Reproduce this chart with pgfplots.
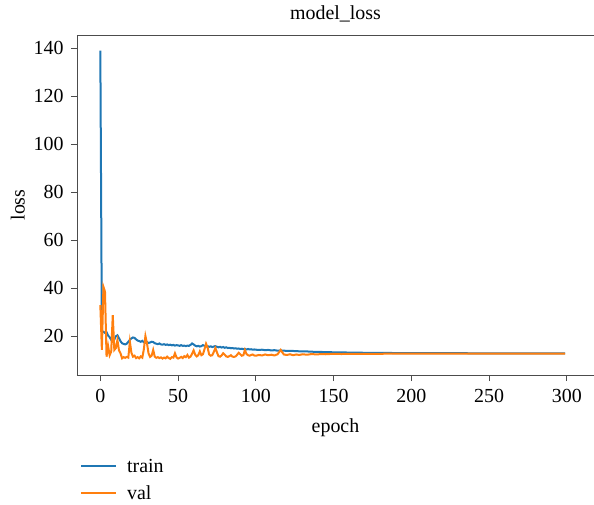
\documentclass[border=0pt]{standalone}
\usepackage{fontspec}
\setmainfont{Liberation Serif}
\usepackage{pgfplots}
\pgfplotsset{compat=1.18}
\definecolor{mplblue}{HTML}{1F77B4}
\definecolor{mplorange}{HTML}{FF7F0E}
\newcommand{\bigfont}{\fontsize{20}{24}\selectfont}

\begin{document}
\begin{tikzpicture}[font=\bigfont]
  \begin{axis}[
    at={(0,0)}, anchor=south west,
    scale only axis,
    width=517bp, height=340bp,
    xmin=-15, xmax=317.5,
    ymin=3.75, ymax=145.5,
    axis lines*=left,
    xtick={0,50,...,300}, ytick={20,40,...,140},
    tick align=outside, major tick length=6bp,
    axis line style={black!70, line width=0.9bp},
    every tick/.style={black!70, line width=0.9bp},
    /pgf/number format/assume math mode=true,
    tick label style={font=\bigfont},
    xticklabel style={yshift=-5bp},
    yticklabel style={xshift=-4bp},
    label style={font=\bigfont},
    xlabel style={yshift=-9bp},
    ylabel style={yshift=2bp},
    title style={font=\bigfont, yshift=3bp},
    title={model\_loss},
    xlabel={epoch}, ylabel={loss},
    legend style={draw=none, fill=none, font=\bigfont, at={(0,-0.235)}, anchor=north west,
      row sep=8bp, column sep=8bp, legend cell align=left},
    legend image code/.code={\draw[#1] (0bp,0bp) -- (35bp,0bp);},
  ]
    \addplot[mplblue, line width=2bp] coordinates {
      (0,139.0) (1,22.0) (2,21.8) (3,21.3) (4,21.6) (5,20.2) (6,19.5) (7,18.4) (8,17.8) (9,18.6)
      (10,19.9) (11,20.3) (12,19.1) (13,17.8) (14,17.0) (15,16.7) (16,16.5) (17,16.8) (18,17.6) (19,18.4)
      (20,19.0) (21,19.4) (22,19.2) (23,18.6) (24,18.1) (25,17.9) (26,17.6) (27,18.0) (28,17.4) (29,17.2)
      (30,17.5) (31,17.1) (32,17.3) (33,17.6) (34,17.5) (35,17.0) (36,16.8) (37,16.6) (38,16.9) (39,16.5)
      (40,16.4) (41,16.6) (42,16.3) (43,16.5) (44,16.2) (45,16.4) (46,16.1) (47,16.3) (48,16.0) (49,16.2)
      (50,16.1) (51,15.9) (52,16.2) (53,15.9) (54,16.0) (55,15.8) (56,16.0) (57,15.9) (58,16.3) (59,16.9)
      (60,16.5) (61,16.0) (62,15.7) (63,15.9) (64,15.6) (65,15.8) (66,16.2) (67,15.9) (68,15.6) (69,15.8)
      (70,15.5) (71,15.7) (72,15.4) (73,15.6) (74,15.8) (75,15.5) (76,15.3) (77,15.5) (78,15.2) (79,15.4)
      (80,15.1) (81,15.3) (82,15.0) (83,15.1) (84,14.9) (85,15.0) (86,14.8) (87,14.9) (88,14.7) (89,14.8)
      (90,14.6) (91,14.7) (92,14.5) (93,14.6) (94,14.4) (95,14.6) (96,14.4) (97,14.5) (98,14.3) (99,14.4)
      (100,14.3) (102,14.2) (104,14.3) (106,14.1) (108,14.2) (110,14.0) (112,14.1) (114,13.9) (116,14.0) (118,13.9)
      (120,13.8) (123,13.8) (126,13.7) (129,13.6) (132,13.6) (135,13.5) (138,13.4) (141,13.4) (144,13.3) (147,13.3)
      (150,13.2) (155,13.2) (160,13.1) (165,13.1) (170,13.0) (180,13.0) (190,12.9) (200,12.9) (220,12.9) (240,12.8)
      (260,12.8) (280,12.8) (299,12.8)
    };
    \addlegendentry{train}
    \addplot[mplorange, line width=2bp] coordinates {
      (0,32.9) (1,14.2) (2,40.5) (3,38.5) (4,11.4) (5,15.8) (6,12.0) (7,13.5) (8,28.7) (9,14.2)
      (10,15.0) (11,18.3) (12,14.0) (13,12.8) (14,10.7) (15,11.2) (16,10.9) (17,11.3) (18,11.0) (19,17.6)
      (20,13.0) (21,11.4) (22,11.8) (23,10.8) (24,11.2) (25,10.7) (26,11.5) (27,11.0) (28,14.5) (29,20.0)
      (30,17.0) (31,12.8) (32,11.3) (33,11.8) (34,14.2) (35,11.4) (36,10.9) (37,11.2) (38,10.8) (39,11.1)
      (40,10.6) (41,11.0) (42,10.7) (43,11.4) (44,10.8) (45,10.5) (46,11.2) (47,11.0) (48,12.8) (49,11.1)
      (50,10.6) (51,10.9) (52,11.3) (53,10.8) (54,11.6) (55,11.2) (56,12.1) (57,11.0) (58,11.4) (59,12.6)
      (60,14.0) (61,12.2) (62,11.5) (63,12.0) (64,13.6) (65,12.0) (66,12.4) (67,14.5) (68,16.8) (69,15.2)
      (70,12.3) (71,11.8) (72,12.0) (73,13.4) (74,15.0) (75,13.2) (76,11.6) (77,11.4) (78,11.9) (79,12.8)
      (80,12.2) (81,11.5) (82,11.3) (83,11.6) (84,12.0) (85,11.4) (86,11.3) (87,11.5) (88,12.2) (89,13.0)
      (90,12.4) (91,11.8) (92,12.0) (93,14.2) (94,12.5) (95,12.0) (96,11.8) (97,12.1) (98,12.3) (99,11.9)
      (100,11.8) (102,12.1) (104,11.9) (106,12.3) (108,12.0) (110,12.2) (112,11.9) (114,12.4) (116,14.2) (118,12.3)
      (120,12.1) (122,12.4) (124,12.0) (126,12.3) (128,12.1) (130,12.4) (133,12.2) (136,12.5) (139,12.3) (142,12.5)
      (145,12.4) (150,12.6) (155,12.5) (160,12.6) (170,12.6) (180,12.6) (200,12.7) (220,12.7) (240,12.7) (260,12.7)
      (280,12.7) (299,12.7)
    };
    \addlegendentry{val}
    % top spine only; the right one falls outside the cropped picture
    \draw[black!70, line width=0.9bp] (rel axis cs:0,1) -- (rel axis cs:1,1);
  \end{axis}
  \pgfresetboundingbox
  \path[use as bounding box] (-77bp,-130bp) rectangle (517bp,375bp);
\end{tikzpicture}
\end{document}
